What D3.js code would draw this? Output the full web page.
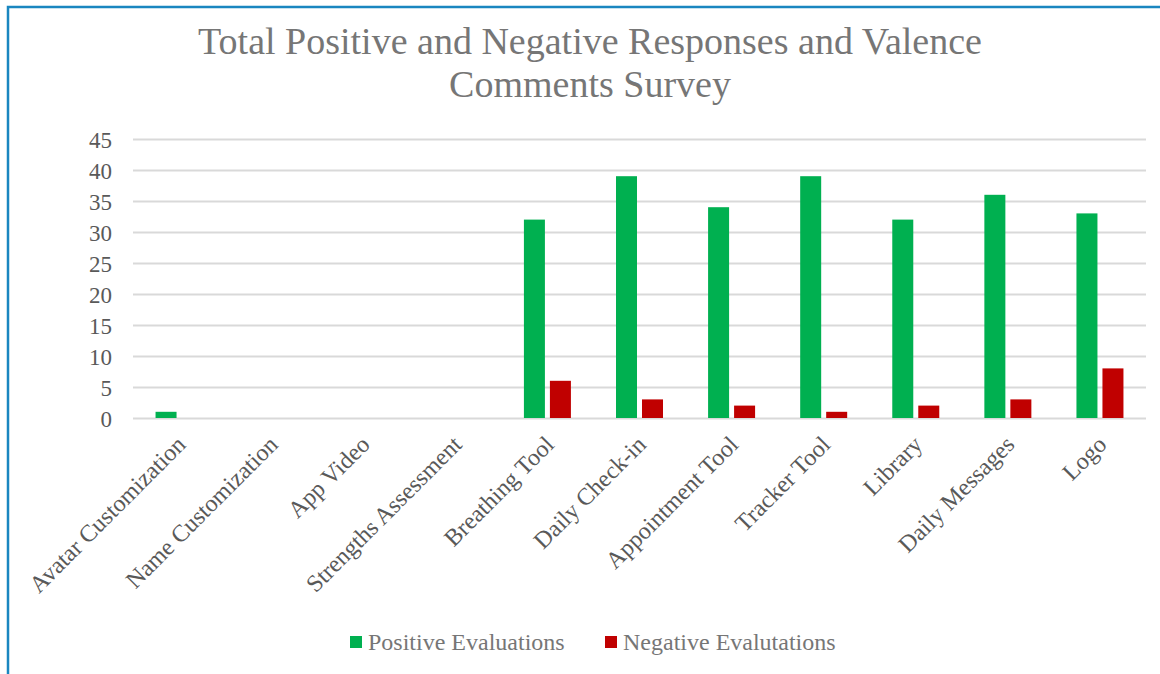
<!DOCTYPE html>
<html lang="en">
<head>
<meta charset="UTF-8">
<title>Total Positive and Negative Responses and Valence Comments Survey</title>
<script src="https://cdnjs.cloudflare.com/ajax/libs/d3/7.8.5/d3.min.js"></script>
<style>
    body { margin: 0; background: #fff; }
    svg { display: block; font-family: "Liberation Serif", "Times New Roman", serif; }
    .grid line { stroke: #d9d9d9; stroke-width: 2px; }
    .grid path { display: none; }
    .tick text { fill: #595959; }
</style>
</head>
<body>
<div id="chart"></div>
<script>
    // data
    const categories = ["Avatar Customization", "Name Customization", "App Video", "Strengths Assessment",
        "Breathing Tool", "Daily Check-in", "Appointment Tool", "Tracker Tool", "Library", "Daily Messages", "Logo"];
    const positive = [1, 0, 0, 0, 32, 39, 34, 39, 32, 36, 33];
    const negative = [0, 0, 0, 0, 6, 3, 2, 1, 2, 3, 8];
    const seriesNames = ["Positive Evaluations", "Negative Evalutations"];
    const seriesColors = ["#00b050", "#c00000"];
    const yTicks = [0, 5, 10, 15, 20, 25, 30, 35, 40, 45];

    const width = 1160, height = 674;
    const margin = { top: 139, right: 14, bottom: 256, left: 133 };

    const svg = d3.select("#chart").append("svg")
        .attr("width", width)
        .attr("height", height);

    // blue frame (only top and left are in view)
    svg.append("path")
        .attr("d", `M8,${height} L8,7 L${width},7`)
        .attr("fill", "none")
        .attr("stroke", "#1a86c0")
        .attr("stroke-width", 2.5);

    // title
    const title = svg.append("text")
        .attr("text-anchor", "middle")
        .attr("fill", "#767676")
        .attr("font-size", "38px");
    title.append("tspan").attr("x", 590).attr("y", 54).text("Total Positive and Negative Responses and Valence");
    title.append("tspan").attr("x", 590).attr("y", 97).text("Comments Survey");

    const x = d3.scaleBand()
        .domain(categories)
        .range([margin.left, width - margin.right]);

    // zero line sits at 418, 45 at 139
    const y = d3.scaleLinear()
        .domain([0, 45])
        .range([418, margin.top]);

    // gridlines
    svg.append("g")
        .attr("class", "grid")
        .attr("transform", `translate(${margin.left},0)`)
        .call(d3.axisLeft(y).tickValues(yTicks).tickSize(-(width - margin.right - margin.left)).tickFormat(""));

    // y labels
    svg.append("g")
        .attr("transform", `translate(${margin.left},0)`)
        .call(d3.axisLeft(y).tickValues(yTicks).tickSize(0).tickPadding(21))
        .call(g => g.select(".domain").remove())
        .selectAll("text")
        .attr("font-size", "23px")
        .attr("font-family", "Liberation Serif, serif")
        .attr("dy", "0.35em");

    // bars
    const barW = 21, gap = 5;
    const series = [positive, negative];
    series.forEach((vals, si) => {
        svg.append("g").selectAll("rect")
            .data(vals)
            .enter().append("rect")
            .attr("x", (d, i) => x(categories[i]) + x.bandwidth() / 2 - barW - gap / 2 + si * (barW + gap))
            .attr("y", d => y(d))
            .attr("width", barW)
            .attr("height", d => y(0) - y(d))
            .attr("fill", seriesColors[si]);
    });

    // category labels
    svg.append("g").selectAll("text")
        .data(categories)
        .enter().append("text")
        .attr("transform", d => `translate(${x(d) + x.bandwidth() / 2 + 8},${446}) rotate(-45)`)
        .attr("text-anchor", "end")
        .attr("fill", "#595959")
        .attr("font-size", "24px")
        .text(d => d);

    // legend
    const legendX = [350, 605];
    const legend = svg.append("g").selectAll("g")
        .data(seriesNames)
        .enter().append("g")
        .attr("transform", (d, i) => `translate(${legendX[i]},636)`);
    legend.append("rect")
        .attr("width", 12).attr("height", 12)
        .attr("fill", (d, i) => seriesColors[i]);
    legend.append("text")
        .attr("x", 18).attr("y", 14)
        .attr("fill", "#767676")
        .attr("font-size", "24px")
        .text(d => d);
</script>
</body>
</html>
